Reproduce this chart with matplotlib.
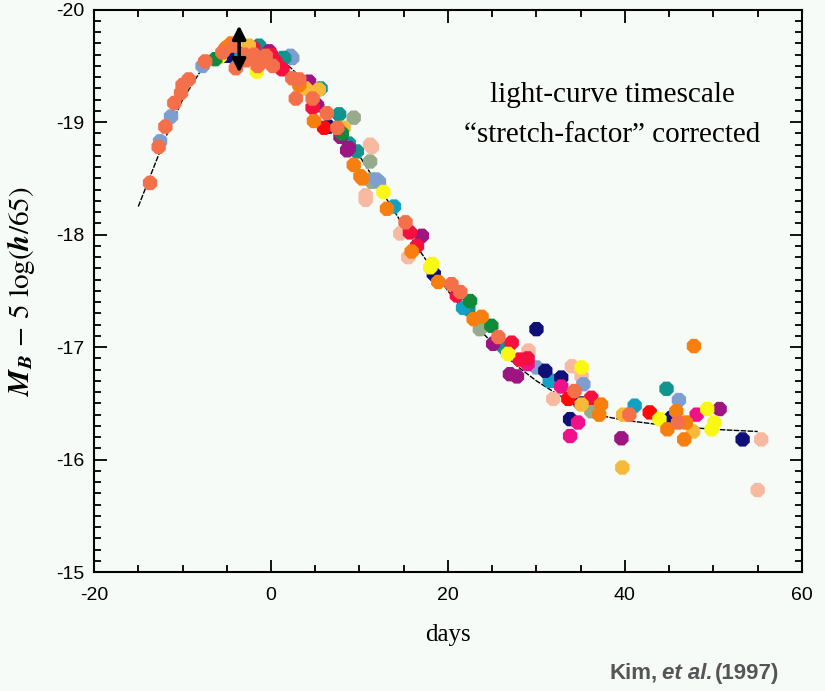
import numpy as np
import matplotlib.pyplot as plt
from matplotlib.ticker import MultipleLocator

plt.rcParams['axes.unicode_minus'] = False
plt.rcParams['mathtext.fontset'] = 'stix'

# template light curve (days, M_B)
tmpl_days = [-15, -12, -10, -8, -6, -4, -2, 0, 2, 4, 6, 8, 10, 12, 14, 16, 18,
             20, 22, 24, 26, 28, 30, 32, 34, 36, 38, 40, 45, 50, 55]
tmpl_mag = [-18.25, -18.85, -19.2, -19.45, -19.6, -19.66, -19.67, -19.62, -19.5,
            -19.35, -19.15, -18.95, -18.7, -18.45, -18.2, -17.95, -17.72, -17.5,
            -17.3, -17.12, -16.96, -16.82, -16.7, -16.6, -16.5, -16.43, -16.38,
            -16.35, -16.3, -16.27, -16.25]

# observations, one group per supernova colour
sn_colors = {
    'peach': '#f7b9a0', 'sage': '#97aa8c', 'steelblue': '#7e9ed2',
    'teal': '#10958e', 'cyan': '#12a0c4', 'navy': '#0f0f78',
    'purple': '#9c1580', 'pink': '#f0108a', 'red': '#ff0a0a',
    'crimson': '#f5103f', 'yellow': '#f8f812', 'gold': '#f6ba38',
    'green': '#118a3a', 'orange': '#f77f0f', 'coral': '#f4704b',
}

peach = [(11.2, -18.8), (11.4, -18.78), (10.7, -18.35), (10.7, -18.31), (14.6, -18.01),
         (15.5, -17.80), (29.1, -16.97), (34.0, -16.83), (35.1, -16.74), (31.9, -16.54),
         (55.4, -16.18), (55.0, -15.73)]
sage = [(9.35, -19.04), (11.2, -18.65), (11.4, -18.47), (11.4, -18.49), (23.6, -17.16),
        (36.2, -16.43)]
steelblue = [(-12.54, -18.83), (-11.3, -19.05), (-7.74, -19.5), (2.2, -19.59), (2.4, -19.57),
             (11.9, -18.49), (12.2, -18.47), (30.0, -16.82), (35.3, -16.67), (46.1, -16.53)]
teal = [(-1.35, -19.68), (1.5, -19.57), (1.3, -19.57), (5.6, -19.3), (7.7, -19.07),
        (8.8, -18.81), (9.7, -18.74), (22.3, -17.34), (26.3, -17.0), (44.7, -16.63)]
cyan = [(-4.0, -19.56), (13.9, -18.25), (21.7, -17.35), (31.7, -16.70), (31.5, -16.70),
        (41.1, -16.48)]
navy = [(-4.96, -19.59), (6.5, -18.96), (18.4, -17.65), (30.0, -17.16), (31.0, -16.79),
        (32.8, -16.73), (33.8, -16.36), (35.0, -16.5), (45.2, -16.37), (53.3, -16.18)]
purple = [(-0.2, -19.63), (4.3, -19.36), (4.3, -19.32), (5.2, -19.15), (7.85, -18.87),
          (8.6, -18.75), (8.8, -18.77), (17.05, -17.99), (25.1, -17.03), (27.0, -16.76),
          (27.8, -16.74), (39.6, -16.19), (50.7, -16.45)]
pink = [(32.8, -16.65), (34.7, -16.33), (33.8, -16.21), (48.1, -16.40), (29.0, -16.85)]
red = [(33.6, -16.54), (42.8, -16.42), (6.0, -18.95)]
crimson = [(0.5, -19.54), (1.1, -19.48), (1.3, -19.47), (4.7, -19.13), (16.5, -17.9),
           (15.7, -18.02), (21.0, -17.46), (27.2, -17.04), (28.1, -16.89), (29.0, -16.9),
           (36.2, -16.55), (-2.0, -19.66), (0.0, -19.6)]
yellow = [(-1.6, -19.45), (-5.8, -19.58), (12.7, -18.38), (18.0, -17.71), (18.2, -17.74),
          (26.8, -16.94), (35.1, -16.82), (43.9, -16.36), (49.3, -16.45), (50.1, -16.33),
          (49.8, -16.27)]
gold = [(-2.5, -19.68), (3.9, -19.3), (3.3, -19.30), (5.4, -19.29), (8.2, -18.95),
        (35.1, -16.49), (39.8, -16.40), (47.7, -16.25), (39.7, -15.93)]
green = [(-6.3, -19.56), (22.5, -17.41), (24.9, -17.19), (8.0, -18.9)]
orange = [(-5.1, -19.66), (3.2, -19.33), (4.85, -19.01), (9.35, -18.62), (10.1, -18.52),
          (10.3, -18.5), (13.1, -18.23), (15.9, -17.85), (18.9, -17.58), (22.9, -17.25),
          (23.8, -17.27), (37.3, -16.49), (37.1, -16.40), (47.8, -17.01), (45.8, -16.43),
          (44.8, -16.27), (46.9, -16.33), (46.7, -16.18), (-4.5, -19.7)]
coral = [(-13.67, -18.46), (-12.7, -18.78), (-11.94, -18.96), (-10.93, -19.17),
         (-10.17, -19.26), (-10.0, -19.33), (-9.3, -19.38), (-7.44, -19.54), (-3.98, -19.48),
         (-4.17, -19.68), (-1.9, -19.6), (-1.0, -19.54), (-0.6, -19.59), (2.4, -19.39),
         (3.2, -19.38), (2.8, -19.21), (4.7, -19.21), (6.3, -19.08), (7.5, -18.95),
         (15.2, -18.11), (20.4, -17.56), (21.4, -17.49), (25.7, -17.09), (34.3, -16.61),
         (40.5, -16.40), (46.0, -16.33), (-5.5, -19.62), (-3.0, -19.6), (-2.8, -19.55),
         (-1.5, -19.5), (0.2, -19.5)]

groups = [('peach', peach), ('sage', sage), ('steelblue', steelblue), ('teal', teal),
          ('cyan', cyan), ('navy', navy), ('purple', purple), ('pink', pink),
          ('red', red), ('crimson', crimson), ('yellow', yellow), ('gold', gold),
          ('green', green), ('orange', orange), ('coral', coral)]

bg = '#f7fbf8'
fig = plt.figure(figsize=(8.25, 6.91), dpi=100, facecolor=bg)
ax = fig.add_axes([0.114, 0.172, 0.858, 0.814], facecolor=bg)

ax.plot(tmpl_days, tmpl_mag, color='black', lw=1.0, ls=(0, (4, 1)), zorder=1)

for name, pts in groups:
    arr = np.array(pts)
    ax.scatter(arr[:, 0], arr[:, 1], s=125, marker='8', color=sn_colors[name],
               edgecolors='none', zorder=2)

# error bar arrow near peak
ax.annotate('', xy=(-3.6, -19.86), xytext=(-3.6, -19.44),
            arrowprops=dict(arrowstyle='<|-|>', color='black', lw=2.5,
                            mutation_scale=20, shrinkA=0, shrinkB=0), zorder=5)

ax.set_xlim(-20, 60)
ax.set_ylim(-15, -20)
ax.xaxis.set_major_locator(MultipleLocator(20))
ax.xaxis.set_minor_locator(MultipleLocator(5))
ax.yaxis.set_major_locator(MultipleLocator(1))
ax.yaxis.set_minor_locator(MultipleLocator(0.1))
ax.tick_params(which='both', direction='in', top=True, right=True, width=1.3,
               labelsize=14)
ax.tick_params(axis='x', pad=11)
ax.tick_params(axis='y', pad=7)
ax.tick_params(which='major', length=9)
ax.tick_params(which='minor', length=5)
for lbl in ax.get_xticklabels() + ax.get_yticklabels():
    lbl.set_family(['Liberation Sans Narrow', 'Liberation Sans'])
for sp in ax.spines.values():
    sp.set_linewidth(1.5)

ax.set_xlabel('days', family='Liberation Serif', fontsize=18, labelpad=14)
ax.set_ylabel(r'$\mathbfit{M}_{\mathbfit{B}}\,-\,5\ \log(\mathbfit{h}/65)$',
              fontsize=21, labelpad=14)

ax.text(0.732, 0.849, 'light-curve timescale', transform=ax.transAxes,
        family='Liberation Serif', fontsize=21, ha='center', va='center')
ax.text(0.732, 0.778, '\u201cstretch-factor\u201d corrected', transform=ax.transAxes,
        family='Liberation Serif', fontsize=21, ha='center', va='center')

fig.text(0.797, 0.018, 'Kim,', family=['Liberation Sans Narrow', 'Liberation Sans'],
         fontsize=16, fontweight='bold', color='#555555', ha='right')
fig.text(0.803, 0.018, r'et al.', family=['Liberation Sans Narrow', 'Liberation Sans'],
         fontsize=16, fontweight='bold', style='italic', color='#555555', ha='left')
fig.text(0.867, 0.018, '(1997)', family=['Liberation Sans Narrow', 'Liberation Sans'],
         fontsize=16, fontweight='bold', color='#555555', ha='left')

fig.savefig('out.png', dpi=100, facecolor=bg)
